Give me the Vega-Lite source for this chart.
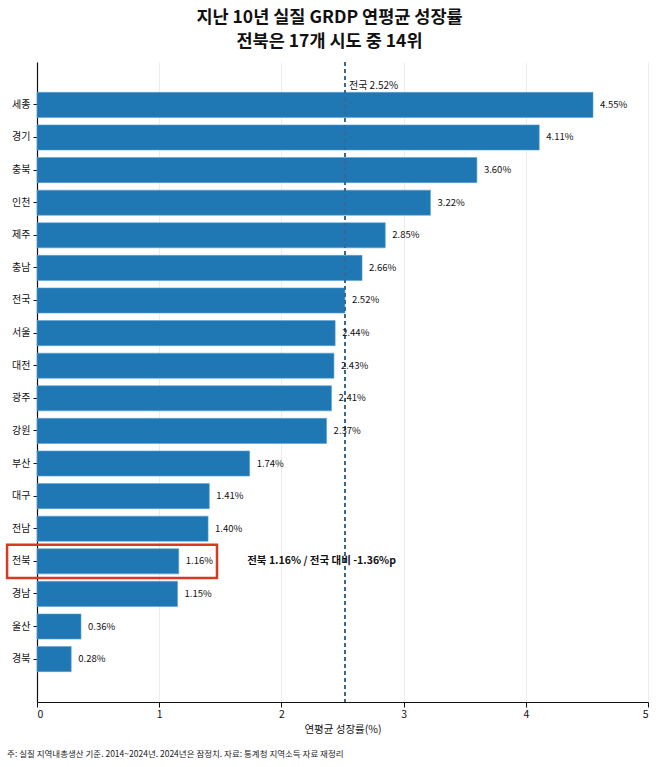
{
  "$schema": "https://vega.github.io/schema/vega-lite/v6.json",
  "width": 611,
  "height": 640,
  "autosize": {"type": "none"},
  "padding": {"left": 37, "top": 62, "right": 10, "bottom": 65},
  "background": "white",
  "config": {
    "font": "Noto Sans CJK KR",
    "view": {"stroke": null},
    "axis": {"labelFont": "Noto Sans CJK KR", "titleFont": "Noto Sans CJK KR"}
  },
  "title": {
    "text": ["지난 10년 실질 GRDP 연평균 성장률", "전북은 17개 시도 중 14위"],
    "fontSize": 17.5,
    "fontWeight": "bold",
    "color": "#111111",
    "lineHeight": 24,
    "anchor": "middle",
    "frame": "group",
    "dx": -13,
    "offset": 11
  },
  "datasets": {
    "regions": [
      {"region": "세종", "rate": 4.55},
      {"region": "경기", "rate": 4.11},
      {"region": "충북", "rate": 3.60},
      {"region": "인천", "rate": 3.22},
      {"region": "제주", "rate": 2.85},
      {"region": "충남", "rate": 2.66},
      {"region": "전국", "rate": 2.52},
      {"region": "서울", "rate": 2.44},
      {"region": "대전", "rate": 2.43},
      {"region": "광주", "rate": 2.41},
      {"region": "강원", "rate": 2.37},
      {"region": "부산", "rate": 1.74},
      {"region": "대구", "rate": 1.41},
      {"region": "전남", "rate": 1.40},
      {"region": "전북", "rate": 1.16},
      {"region": "경남", "rate": 1.15},
      {"region": "울산", "rate": 0.36},
      {"region": "경북", "rate": 0.28}
    ]
  },
  "data": {"name": "regions"},
  "encoding": {
    "y": {
      "field": "region",
      "type": "nominal",
      "sort": null,
      "scale": {"paddingInner": 0.23, "paddingOuter": 0.93},
      "axis": {
        "title": null,
        "labelFontSize": 10,
        "labelColor": "#111111",
        "tickSize": 4,
        "tickColor": "#111111",
        "labelPadding": 3,
        "domainColor": "#111111",
        "domainWidth": 1.2,
        "grid": false
      }
    }
  },
  "layer": [
    {
      "mark": {"type": "bar", "color": "#1f77b4", "stroke": "#5aa5d6", "strokeWidth": 0.6},
      "encoding": {
        "x": {
          "field": "rate",
          "type": "quantitative",
          "scale": {"domain": [0, 5], "nice": false},
          "axis": {
            "title": "연평균 성장률(%)",
            "titleFontSize": 10.5,
            "titleFontWeight": "normal",
            "titleColor": "#111111",
            "titlePadding": 5,
            "labelFontSize": 10.5,
            "labelColor": "#111111",
            "values": [0, 1, 2, 3, 4, 5],
            "format": "d",
            "tickSize": 5,
            "tickColor": "#111111",
            "domainColor": "#111111",
            "domainWidth": 1.2,
            "grid": true,
            "gridColor": "#ececec",
            "gridWidth": 1
          }
        }
      }
    },
    {
      "mark": {"type": "rule", "color": "#3a6a94", "strokeDash": [4, 3], "strokeWidth": 1.2},
      "encoding": {"x": {"datum": 2.52, "type": "quantitative"}, "y": null}
    },
    {
      "transform": [{"calculate": "format(datum.rate, '.2f') + '%'", "as": "label"}],
      "mark": {"type": "text", "align": "left", "baseline": "middle", "dx": 7, "fontSize": 9.5, "color": "#111111"},
      "encoding": {
        "x": {"field": "rate", "type": "quantitative"},
        "text": {"field": "label"}
      }
    },
    {
      "transform": [{"filter": "datum.region === '세종'"}],
      "mark": {"type": "text", "align": "left", "baseline": "middle", "dx": 4, "dy": -19, "fontSize": 10, "color": "#111111"},
      "encoding": {
        "x": {"datum": 2.52, "type": "quantitative"},
        "text": {"value": "전국 2.52%"}
      }
    },
    {
      "transform": [{"filter": "datum.region === '전북'"}],
      "mark": {"type": "text", "align": "left", "baseline": "middle", "fontSize": 10.5, "fontWeight": "bold", "color": "#111111"},
      "encoding": {
        "x": {"datum": 1.72, "type": "quantitative"},
        "text": {"value": "전북 1.16% / 전국 대비 -1.36%p"}
      }
    },
    {
      "transform": [{"filter": "datum.region === '전북'"}],
      "mark": {"type": "bar", "fill": null, "fillOpacity": 0, "stroke": "#d63a22", "strokeWidth": 2.5, "height": {"band": 1.32}},
      "encoding": {
        "x": {"datum": -0.245, "type": "quantitative"},
        "x2": {"datum": 1.473}
      }
    },
    {
      "transform": [{"filter": "datum.region === '경북'"}],
      "mark": {"type": "text", "align": "left", "baseline": "middle", "dy": 95, "fontSize": 8.5, "color": "#222222"},
      "encoding": {
        "x": {"datum": -0.245, "type": "quantitative"},
        "text": {"value": "주: 실질 지역내총생산 기준. 2014~2024년. 2024년은 잠정치. 자료: 통계청 지역소득 자료 재정리"}
      }
    }
  ]
}
